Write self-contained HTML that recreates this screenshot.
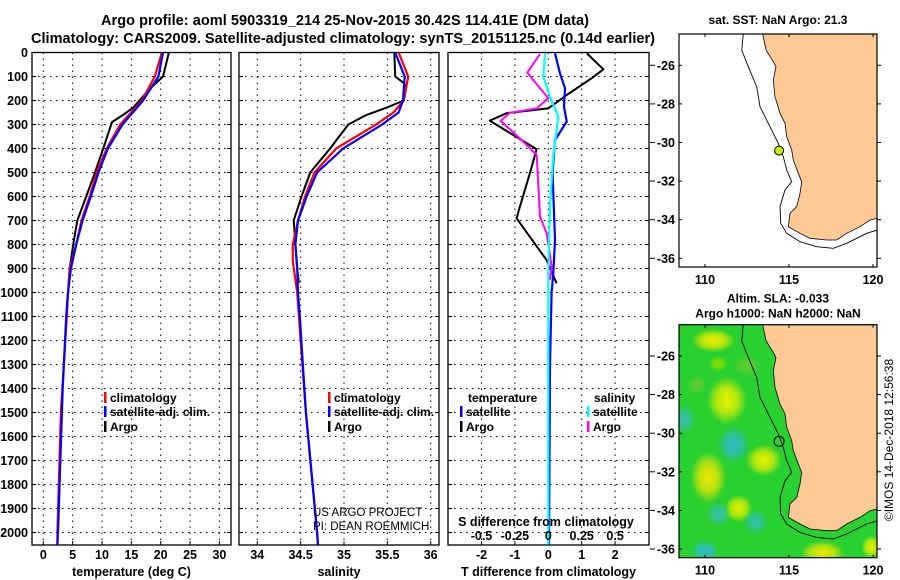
<!DOCTYPE html>
<html><head><meta charset="utf-8"><style>
body{margin:0;background:#fff;}
svg{display:block;font-family:"Liberation Sans",Arial,sans-serif;font-weight:bold;}
</style></head><body>
<svg id="c" width="900" height="580" viewBox="0 0 900 580">
<text x="345" y="25" font-size="14.5" text-anchor="middle" textLength="488">Argo profile: aoml 5903319_214 25-Nov-2015 30.42S 114.41E (DM data)</text>
<text x="343" y="43" font-size="14.5" text-anchor="middle" textLength="624">Climatology: CARS2009. Satellite-adjusted climatology: synTS_20151125.nc (0.14d earlier)</text>
<g id="g"></g>
</svg>
<script>
// ---- data ----
const depthTicks=[0,100,200,300,400,500,600,700,800,900,1000,1100,1200,1300,1400,1500,1600,1700,1800,1900,2000];
const tempTicks=[0,5,10,15,20,25,30];
const salTicks=[34,34.5,35,35.5,36];
const tdiffTicks=[-2,-1,0,1,2];
const sdiffTicks=[-0.5,-0.25,0,0.25,0.5];
const sdiffLabels=["-0.5","-0.25","0","0.25","0.5"];
const tArgoD=[0,100,150,230,260,290,400,500,600,700,800,900,970];
const tArgo=[21.4,20.4,18.2,15.3,13.6,11.7,10.2,8.8,7.3,5.8,5.1,4.5,4.3];
const tClimD=[0,100,200,300,400,500,600,700,800,900,1000,1100,1500,2000,2050];
const tClim=[20.2,19.0,16.8,13.1,10.8,9.1,7.9,6.5,5.6,4.5,4.2,4.0,3.0,2.4,2.4];
const tSatD=[0,100,200,300,400,500,600,700,800,900,1000,1100,1400,2000,2050];
const tSat=[20.4,19.6,17.0,13.5,11.0,9.4,8.1,6.7,5.6,4.7,4.2,3.9,3.3,2.5,2.4];
const sArgoD=[0,100,130,200,230,260,300,400,500,600,700,800,900,960];
const sArgo=[35.58,35.59,35.70,35.69,35.49,35.26,35.05,34.84,34.61,34.51,34.42,34.44,34.46,34.48];
const sClimD=[0,100,200,250,300,400,500,600,700,800,870,1000,1500,2000,2050];
const sClim=[35.63,35.74,35.69,35.57,35.37,34.91,34.66,34.55,34.47,34.41,34.41,34.46,34.56,34.69,34.70];
const sSatD=[0,100,200,250,300,400,500,600,700,800,900,1000,1100,1500,2000,2050];
const sSat=[35.59,35.70,35.68,35.63,35.44,34.99,34.69,34.57,34.47,34.44,34.46,34.47,34.49,34.56,34.69,34.70];
const dTArgoD=[3,70,107,177,233,253,284,403,503,642,691,865,962];
const dTArgo=[1.15,1.65,1.3,0.55,0,-1.25,-1.75,-0.35,-0.55,-0.85,-0.95,-0.05,0.25];
const dSArgoD=[6,84,191,233,251,285,365,427,684,753,892,948];
const dSArgo=[-0.062,-0.157,0,-0.087,-0.287,-0.356,-0.2,-0.087,-0.062,-0.012,0.025,0.012];
const dTSatD=[3,87,149,226,288,365,503,781,920,1000,1300,2050];
const dTSat=[0.2,0.35,0.5,0.47,0.55,0.2,0.13,0.2,0.15,0.1,0.05,0.02];
const dSSatD=[3,101,184,267,434,642,920,2050];
const dSSat=[-0.025,-0.037,0.012,0.075,0.037,0.012,0,0];
const latTicks=[-26,-28,-30,-32,-34,-36];
const lonTicks=[110,115,120];

// ---- axes ----
const Y=d=>52.5+0.24*d;
const XT=t=>43.3+5.87*t;
const XS=s=>257.3+86.7*(s-34);
const XdT=t=>548.3+33.4*t;
const XdS=s=>548.3+133.6*s;
const MX=l=>705+16.8*(l-110);
const MY=(la,top)=>top+31.3+19.3*(-26-la);

const NS="http://www.w3.org/2000/svg";
const g=document.getElementById('g');
function el(tag,attrs,parent){const e=document.createElementNS(NS,tag);for(const k in attrs)e.setAttribute(k,attrs[k]);(parent||g).appendChild(e);return e;}
function txt(x,y,s,size,anchor,parent,w){const t=el('text',{x:x,y:y,'font-size':size||12,'text-anchor':anchor||'middle'},parent);if(w)t.setAttribute('font-weight',w);t.textContent=s;return t;}

const panels=[{x0:32,x1:231,ticks:tempTicks,fx:XT,lab:t=>String(t),title:'temperature (deg C)',name:'temperature-panel'},
{x0:239,x1:439,ticks:salTicks,fx:XS,lab:t=>String(t),title:'salinity',name:'salinity-panel'},
{x0:448,x1:649,ticks:tdiffTicks,fx:XdT,lab:t=>String(t),title:'T difference from climatology',name:'difference-panel'}];
const TOP=52.5,BOT=545;
panels.forEach((p,i)=>{
  const pg=el('g',{});
  
  
  depthTicks.forEach(d=>{el('line',{x1:p.x0,x2:p.x1,y1:Y(d),y2:Y(d),stroke:'#000','stroke-width':1,'stroke-dasharray':'1.5,4.5'},pg);
    el('line',{x1:p.x0,x2:p.x0+4,y1:Y(d),y2:Y(d),stroke:'#000'},pg);el('line',{x1:p.x1-4,x2:p.x1,y1:Y(d),y2:Y(d),stroke:'#000'},pg);});
  p.ticks.forEach(t=>{const x=p.fx(t);el('line',{x1:x,x2:x,y1:TOP,y2:BOT,stroke:'#000','stroke-width':1,'stroke-dasharray':'1.5,4.5'},pg);
    el('line',{x1:x,x2:x,y1:BOT-4,y2:BOT,stroke:'#000'},pg);
    const tl=txt(x,559,p.lab(t),12.5,'middle',pg);});
  el('rect',{x:p.x0,y:TOP,width:p.x1-p.x0,height:BOT-TOP,fill:'none',stroke:'#000','stroke-width':1.3},pg);
  const at=txt((p.x0+p.x1)/2,576,p.title,12.5,'middle',pg);
  
  
});
depthTicks.forEach(d=>{const t=txt(28,Y(d)+4.5,String(d),12.5,'end');
  
  });

function line(D,V,fx,col,w,name){
  const pts=D.map((d,i)=>fx(V[i]).toFixed(1)+','+Y(d).toFixed(1)).join(' ');
  const l=el('polyline',{points:pts,fill:'none',stroke:col,'stroke-width':w,'stroke-linejoin':'round'});
  
  
}
line(tArgoD,tArgo,XT,'#000',2,'temp-argo-line');
line(tClimD,tClim,XT,'#f00',2.2,'temp-climatology-line');
line(tSatD,tSat,XT,'#00f',2.2,'temp-satellite-line');
line(sArgoD,sArgo,XS,'#000',2,'sal-argo-line');
line(sClimD,sClim,XS,'#f00',2.2,'sal-climatology-line');
line(sSatD,sSat,XS,'#00f',2.2,'sal-satellite-line');
line(dTArgoD,dTArgo,XdT,'#000',2,'tdiff-argo-line');
line(dTSatD,dTSat,XdT,'#00f',2.2,'tdiff-satellite-line');
line(dSArgoD,dSArgo,XdS,'#f0f',2,'sdiff-argo-line');
line(dSSatD,dSSat,XdS,'#0ff',2.2,'sdiff-satellite-line');

const st=txt(546,526,'S difference from climatology',12.5);


sdiffTicks.forEach((s,i)=>{const t=txt(XdS(s),540,sdiffLabels[i],12.5);
  
  });

function legend(x,y,col,label,name){
  const lg=el('g',{});
  
  
  el('rect',{x:x,y:y-10,width:2.5,height:11,fill:col},lg);
  txt(x+6,y,label,12,'start',lg);
}
legend(104,402,'#f00','climatology','legend-temp-climatology');
legend(104,416,'#00f','satellite-adj. clim.','legend-temp-satellite');
legend(104,431,'#000','Argo','legend-temp-argo');
legend(328,402,'#f00','climatology','legend-sal-climatology');
legend(328,416,'#00f','satellite-adj. clim.','legend-sal-satellite');
legend(328,431,'#000','Argo','legend-sal-argo');
txt(468,402,'temperature',12,'start');
legend(460,416,'#00f','satellite','legend-tdiff-satellite');
legend(460,431,'#000','Argo','legend-tdiff-argo');
txt(594,402,'salinity',12,'start');
legend(587,416,'#0ff','satellite','legend-sdiff-satellite');
legend(587,431,'#f0f','Argo','legend-sdiff-argo');
txt(313,516,'US ARGO PROJECT',11.5,'start',null,'normal');
txt(313,530,'PI: DEAN ROEMMICH',11.5,'start',null,'normal');

// ---- maps ----
const coast=[[308,102],[318,150],[340,185],[348,200],[340,240],[345,290],[360,340],[375,370],[380,410],[395,450],[400,480],[415,520],[425,545],[420,580],[410,620],[390,640],[385,680],[420,700],[450,715],[500,720],[530,720],[560,700],[600,680],[630,660],[652,655],[652,102]];
const shelf=[[250,102],[245,150],[265,200],[290,260],[300,320],[330,380],[355,430],[370,470],[380,510],[395,545],[375,570],[360,620],[362,670],[380,700],[420,725],[470,740],[520,745],[560,730],[620,700],[652,690]];
const blobs=[[110.5,-25.2,22,12,'#eeee00'],[111.3,-28.3,20,24,'#e8f000'],[111.7,-30.6,16,18,'#30b8c8'],[110.2,-32.3,18,26,'#f0e800'],[113.5,-31.4,18,16,'#e8f000'],[112.0,-33.9,14,14,'#e0f000'],[113.0,-34.6,12,12,'#30c0b0'],[110.8,-34.2,12,12,'#38c0a8'],[108.8,-29.3,10,14,'#38c0b0'],[110.0,-36.1,14,10,'#30b8d0'],[117.0,-36.2,22,12,'#f0e800'],[119.9,-35.9,10,12,'#e8f000'],[110.8,-26.4,10,8,'#88dd00'],[112.5,-26.5,14,10,'#60cc30'],[109.5,-27.5,10,10,'#60cc30']];
const defs=el('defs',{});
blobs.forEach((b,i)=>{const rg=el('radialGradient',{id:'bg'+i},defs);
  el('stop',{offset:'0','stop-color':b[4],'stop-opacity':1},rg);el('stop',{offset:'0.55','stop-color':b[4],'stop-opacity':0.7},rg);el('stop',{offset:'1','stop-color':b[4],'stop-opacity':0},rg);});

function map(top,name,title1,title2,colored){
  const mg=el('g',{});
  
  
  const L=679,R=877,B=top+233;
  const cp=el('clipPath',{id:'cp'+top},defs);el('rect',{x:L,y:top,width:R-L,height:B-top},cp);
  const inner=el('g',{'clip-path':'url(#cp'+top+')'},mg);
  el('rect',{x:L,y:top,width:R-L,height:B-top,fill:colored?'#28d030':'#fff'},inner);
  if(colored){blobs.forEach((b,i)=>{el('ellipse',{cx:MX(b[0]),cy:MY(b[1],top),rx:b[2],ry:b[3],fill:'url(#bg'+i+')'},inner);});}
  const cpts=coast.map(p=>(660+p[0]/3).toFixed(1)+','+(top-34+p[1]/3).toFixed(1)).join(' ');
  el('polygon',{points:cpts,fill:'#fdca96',stroke:'#000','stroke-width':0.8},inner);
  const spts=shelf.map(p=>(660+p[0]/3).toFixed(1)+','+(top-34+p[1]/3).toFixed(1)).join(' ');
  el('polyline',{points:spts,fill:'none',stroke:'#000','stroke-width':0.9},inner);
  const c=el('circle',{cx:MX(114.41),cy:MY(-30.42,top),r:colored?5:4.5,fill:colored?'none':'#ccee00',stroke:'#000','stroke-width':1},inner);
  
  
  el('rect',{x:L,y:top,width:R-L,height:B-top,fill:'none',stroke:'#000','stroke-width':1.2},mg);
  latTicks.forEach(la=>{const y=MY(la,top);el('line',{x1:L,x2:L+3,y1:y,y2:y,stroke:'#000'},mg);el('line',{x1:R,x2:R+4,y1:y,y2:y,stroke:'#000'},mg);
    el('line',{x1:650,x2:655,y1:y,y2:y,stroke:'#000'},mg);
    const t=txt(675,y+4.5,String(la),12.5,'end',mg);});
  lonTicks.forEach(lo=>{const x=MX(lo);el('line',{x1:x,x2:x,y1:B-3,y2:B,stroke:'#000'},mg);el('line',{x1:x,x2:x,y1:top,y2:top+3,stroke:'#000'},mg);
    const t=txt(x,B+17,String(lo),12.5,'middle',mg);});
  if(title1){const t=txt(778,title2?top-22:top-10,title1,12,'middle',mg);}
  if(title2){const t=txt(778,top-7,title2,12,'middle',mg);}
}
map(34,'sst-map','sat. SST: NaN Argo: 21.3',null,false);
map(324.7,'sla-map','Altim. SLA: -0.033','Argo h1000: NaN h2000: NaN',true);
const cr=txt(0,0,'©IMOS 14-Dec-2018 12:56:38',12,'middle',null,'normal');
cr.setAttribute('transform','translate(893,440) rotate(-90)');


</script>
</body></html>
